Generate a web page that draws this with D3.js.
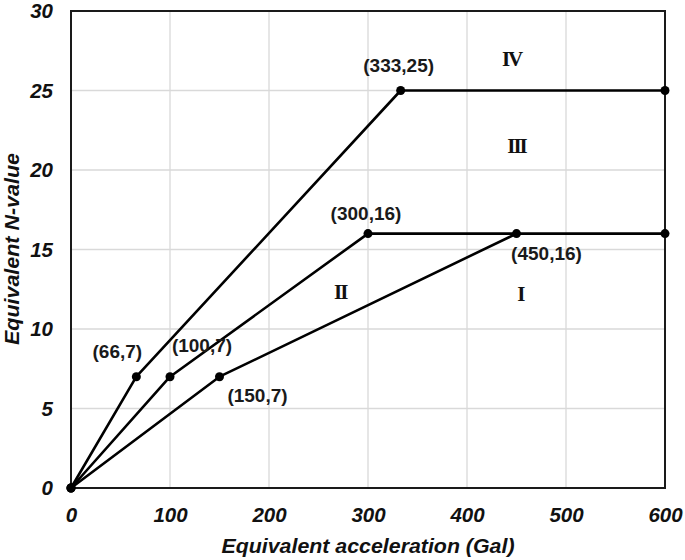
<!DOCTYPE html>
<html><head><meta charset="utf-8">
<script src="https://cdn.jsdelivr.net/npm/d3@7"></script>
<style>body{margin:0;background:#fff}svg{display:block}</style>
</head><body>
<script>
const xTicks = [0,100,200,300,400,500,600];
const yTicks = [0,5,10,15,20,25,30];
const seriesA = [[0,0],[66,7],[333,25],[600,25]];
const seriesB = [[0,0],[100,7],[300,16],[600,16]];
const seriesC = [[0,0],[150,7],[450,16]];
const pointLabels = [
  {x:333,y:25,t:"(333,25)",dx:-2,dy:-25},
  {x:300,y:16,t:"(300,16)",dx:-2,dy:-20},
  {x:450,y:16,t:"(450,16)",dx:30,dy:20},
  {x:66,y:7,t:"(66,7)",dx:-19,dy:-25},
  {x:100,y:7,t:"(100,7)",dx:32,dy:-31},
  {x:150,y:7,t:"(150,7)",dx:38,dy:19}
];
const regionLabels = [
  {x:445,y:27,t:"IV"},
  {x:450,y:21.5,t:"III"},
  {x:272,y:12.3,t:"II"},
  {x:454,y:12.2,t:"I"}
];

const W=685,H=560;
const svg=d3.select("body").append("svg").attr("width",W).attr("height",H);
const x=d3.scaleLinear().domain([0,600]).range([71,665]);
const y=d3.scaleLinear().domain([0,30]).range([488,11]);
const SANS="Liberation Sans, Arial, sans-serif";

// grid
svg.append("g").selectAll("line").data(xTicks.slice(1,-1)).join("line")
  .attr("x1",d=>x(d)).attr("x2",d=>x(d)).attr("y1",y(0)).attr("y2",y(30))
  .attr("stroke","#d9d9d9").attr("stroke-width",1.3);
svg.append("g").selectAll("line").data(yTicks.slice(1,-1)).join("line")
  .attr("y1",d=>y(d)).attr("y2",d=>y(d)).attr("x1",x(0)).attr("x2",x(600))
  .attr("stroke","#d9d9d9").attr("stroke-width",1.3);

// border
svg.append("rect").attr("x",x(0)).attr("y",y(30)).attr("width",x(600)-x(0)).attr("height",y(0)-y(30))
  .attr("fill","none").attr("stroke","#1a1a1a").attr("stroke-width",2);

// axes
const xa=svg.append("g").attr("transform",`translate(0,${y(0)})`)
  .call(d3.axisBottom(x).tickValues(xTicks).tickSize(0).tickPadding(19));
const ya=svg.append("g").attr("transform",`translate(${x(0)},0)`)
  .call(d3.axisLeft(y).tickValues(yTicks).tickSize(0).tickPadding(18));
[xa,ya].forEach(a=>{a.select(".domain").remove();
  a.selectAll("text").attr("font-family",SANS)
   .attr("font-size",20.5).attr("font-weight","bold").attr("font-style","italic").attr("fill","#111");});

// lines
const line=d3.line().x(d=>x(d[0])).y(d=>y(d[1]));
[seriesA,seriesB,seriesC].forEach(s=>{
  svg.append("path").datum(s).attr("d",line).attr("fill","none")
    .attr("stroke","#000").attr("stroke-width",2.6).attr("stroke-linejoin","round");
  svg.append("g").selectAll("circle").data(s).join("circle")
    .attr("cx",d=>x(d[0])).attr("cy",d=>y(d[1])).attr("r",4.5).attr("fill","#000");
});

// point labels
svg.append("g").selectAll("text").data(pointLabels).join("text")
  .attr("x",d=>x(d.x)+d.dx).attr("y",d=>y(d.y)+d.dy).attr("text-anchor","middle")
  .attr("dominant-baseline","central")
  .attr("font-family",SANS).attr("font-size",19).attr("font-weight","bold")
  .attr("fill","#1a1a1a").text(d=>d.t);

// region labels
svg.append("g").selectAll("text").data(regionLabels).join("text")
  .attr("x",d=>x(d.x)).attr("y",d=>y(d.y)).attr("text-anchor","middle")
  .attr("dominant-baseline","central")
  .attr("font-family","Liberation Serif, Times New Roman, serif").attr("font-size",21).attr("font-weight","bold")
  .attr("letter-spacing",-2).attr("fill","#111").text(d=>d.t);

// titles
svg.append("text").attr("x",368).attr("y",553).attr("text-anchor","middle")
  .attr("font-family",SANS).attr("font-size",20.5)
  .attr("font-weight","bold").attr("font-style","italic").attr("fill","#111")
  .attr("textLength",293).attr("lengthAdjust","spacingAndGlyphs")
  .text("Equivalent acceleration (Gal)");
svg.append("text").attr("transform","translate(19,249) rotate(-90)").attr("text-anchor","middle")
  .attr("font-family",SANS).attr("font-size",20)
  .attr("font-weight","bold").attr("font-style","italic").attr("fill","#111")
  .attr("textLength",192).attr("lengthAdjust","spacingAndGlyphs")
  .text("Equivalent N-value");
</script>
</body></html>
